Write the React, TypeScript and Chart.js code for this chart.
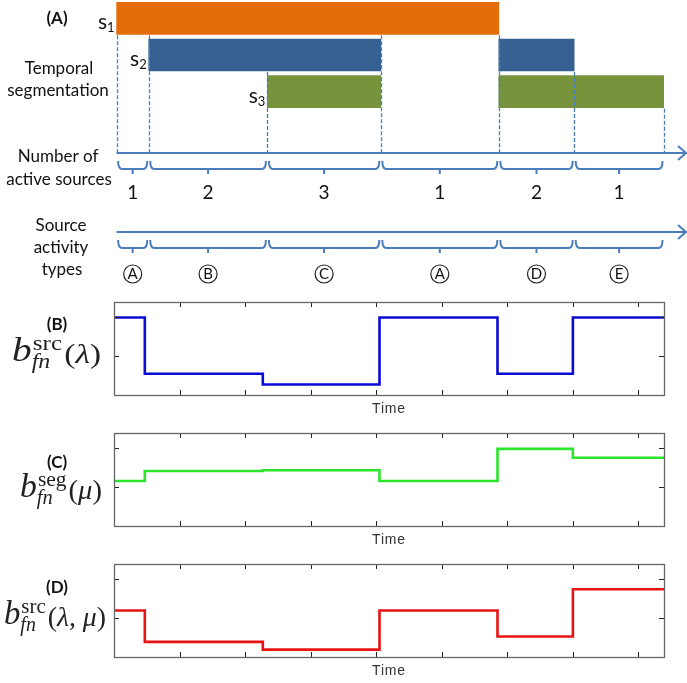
import React, { useEffect, useRef } from 'react';
import { Chart, registerables } from 'chart.js';

Chart.register(...registerables);

// ---------- shared time / level axes ----------
const TIME_MAX = 8.39;
const TIME_TICKS = [1, 2, 3, 4, 5, 6, 7, 8];
const LEVEL_MAX = 2.4;
const LEVEL_TICKS = [1, 2];

// ---------- panel A : temporal segmentation ----------
const SOURCE_NAMES = ['s1', 's2', 's3'];
const SOURCE_SUBSCRIPTS = ['1', '2', '3'];
const SOURCE_COLORS = ['#e46c0a', '#376092', '#77933c'];
const FIRST_ACTIVE: [number, number][] = [[0.04, 5.87], [0.53, 4.07], [2.34, 4.07]];
const SECOND_ACTIVE: ([number, number] | null)[] = [null, [5.87, 7.02], [5.87, 8.39]];
const SEGMENT_BOUNDS = [0.04, 0.53, 2.34, 4.07, 5.87, 7.02, 8.39];
const BOUND_TOP_SOURCE = [0, 0, 1, 0, 0, 1, 2];
const ACTIVE_COUNTS = ['1', '2', '3', '1', '2', '1'];
const ACTIVITY_TYPES = ['A', 'B', 'C', 'A', 'D', 'E'];

// ---------- panels B-D : step curves ----------
const STEP_TIMES = [0, 0.47, 2.27, 4.05, 5.85, 7.0, 8.39];
const SRC_LAMBDA = [2.0, 0.55, 0.27, 2.0, 0.55, 2.0, 2.0];
const SEG_MU = [1.16, 1.42, 1.44, 1.16, 1.99, 1.76, 1.76];
const SRC_LAMBDA_MU = [1.2, 0.39, 0.19, 1.2, 0.53, 1.75, 1.75];

const SANS = 'Lato, "Open Sans", sans-serif';
const SERIF = '"Liberation Serif", "DejaVu Serif", serif';
const AXIS_BLUE = '#4a7ebb';

function drawBrace(ctx: CanvasRenderingContext2D, x0: number, x1: number, yTop: number, yH: number, tick: number) {
  const xm = (x0 + x1) / 2;
  ctx.beginPath();
  ctx.moveTo(x0, yTop);
  ctx.quadraticCurveTo(x0, yH, x0 + 4, yH);
  ctx.lineTo(x1 - 4, yH);
  ctx.quadraticCurveTo(x1, yH, x1, yTop);
  ctx.moveTo(xm, yH);
  ctx.lineTo(xm, yH + tick);
  ctx.stroke();
}

const panelAPlugin = {
  id: 'panelA',
  afterDatasetsDraw(chart: any) {
    const { ctx, scales } = chart;
    const x = scales.x, y = scales.y;
    ctx.save();
    ctx.strokeStyle = AXIS_BLUE;
    ctx.lineWidth = 1.3;
    ctx.setLineDash([4, 2]);
    SEGMENT_BOUNDS.forEach((t, i) => {
      const px = Math.round(x.getPixelForValue(t)) + 0.5;
      const y0 = y.getPixelForValue(BOUND_TOP_SOURCE[i]) + 17;
      ctx.beginPath();
      ctx.moveTo(px, y0);
      ctx.lineTo(px, 153);
      ctx.stroke();
    });
    ctx.restore();
  },
  afterDraw(chart: any) {
    const { ctx, scales } = chart;
    const x = scales.x, y = scales.y;
    const px = (t: number) => x.getPixelForValue(t);
    ctx.save();
    ctx.fillStyle = '#111';
    ctx.textAlign = 'center';
    ctx.textBaseline = 'middle';
    ctx.font = `bold 17px ${SANS}`;
    ctx.fillText('(A)', 57, 19);

    ctx.font = `17px ${SANS}`;
    const leftLabels: [string, number, number][] = [
      ['Temporal', 59, 69], ['segmentation', 58, 91],
      ['Number of', 58, 157], ['active sources', 59, 180],
      ['Source', 61, 226], ['activity', 61, 248], ['types', 62, 270],
    ];
    leftLabels.forEach(([t, cx, cy]) => ctx.fillText(t, cx, cy));

    // source names
    ctx.textBaseline = 'alphabetic';
    ctx.textAlign = 'right';
    SOURCE_SUBSCRIPTS.forEach((sub, i) => {
      const xr = px(FIRST_ACTIVE[i][0]) - 2;
      const yb = y.getPixelForValue(i) + 11;
      ctx.font = `13px ${SANS}`;
      const ws = ctx.measureText(sub).width;
      ctx.fillText(sub, xr, yb + 3);
      ctx.font = `21px ${SANS}`;
      ctx.fillText('s', xr - ws, yb);
    });

    // timelines
    const timeline = (yAxis: number, labels: string[], circled: boolean) => {
      ctx.strokeStyle = AXIS_BLUE;
      ctx.lineWidth = 2;
      ctx.setLineDash([]);
      ctx.beginPath();
      ctx.moveTo(px(SEGMENT_BOUNDS[0]), yAxis);
      ctx.lineTo(686, yAxis);
      ctx.stroke();
      ctx.beginPath();
      ctx.moveTo(678, yAxis - 7);
      ctx.lineTo(686, yAxis);
      ctx.lineTo(678, yAxis + 7);
      ctx.stroke();
      labels.forEach((lab, i) => {
        const x0 = px(SEGMENT_BOUNDS[i]) + 1.5;
        const x1 = px(SEGMENT_BOUNDS[i + 1]) - 1.5;
        ctx.strokeStyle = AXIS_BLUE;
        ctx.lineWidth = 2;
        drawBrace(ctx, x0, x1, yAxis + 8, yAxis + 16, 5);
        const xm = (x0 + x1) / 2;
        ctx.fillStyle = '#111';
        ctx.textAlign = 'center';
        ctx.textBaseline = 'middle';
        if (circled) {
          ctx.strokeStyle = '#222';
          ctx.lineWidth = 1.2;
          ctx.beginPath();
          ctx.arc(xm, yAxis + 42, 9, 0, Math.PI * 2);
          ctx.stroke();
          ctx.font = `15px ${SANS}`;
          ctx.fillText(lab, xm, yAxis + 42.5);
        } else {
          ctx.font = `19px ${SANS}`;
          ctx.fillText(lab, xm, yAxis + 40);
        }
      });
    };
    timeline(153, ACTIVE_COUNTS, false);
    timeline(232, ACTIVITY_TYPES, true);
    ctx.restore();
  },
};

function drawFormula(ctx: CanvasRenderingContext2D, rightX: number, baseline: number, sup: string, args: [string, boolean][], width: number) {
  const bFont = `italic 33px ${SERIF}`;
  const supFont = `21px ${SERIF}`;
  const subFont = `italic 20px ${SERIF}`;
  const argFont = (it: boolean) => `${it ? 'italic ' : ''}28px ${SERIF}`;
  ctx.font = bFont;
  const wb = ctx.measureText('b').width;
  ctx.font = supFont;
  const wsup = ctx.measureText(sup).width;
  ctx.font = subFont;
  const wsub = ctx.measureText('fn').width;
  const wScript = Math.max(wsup, wsub + 1) + 2;
  const argWidths = args.map(([t, it]) => {
    ctx.font = argFont(it);
    return ctx.measureText(t).width;
  });
  const total = wb + 1 + wScript + argWidths.reduce((a, b) => a + b, 0);
  const sx = width / total;
  ctx.save();
  ctx.translate(rightX - width, baseline);
  ctx.scale(sx, 1);
  ctx.textAlign = 'left';
  ctx.textBaseline = 'alphabetic';
  ctx.fillStyle = '#222';
  ctx.font = bFont;
  ctx.fillText('b', 0, 0);
  ctx.font = supFont;
  ctx.fillText(sup, wb + 1, -11);
  ctx.font = subFont;
  ctx.fillText('fn', wb, 7);
  let cx = wb + 1 + wScript;
  args.forEach(([t, it], i) => {
    ctx.font = argFont(it);
    ctx.fillText(t, cx, 2);
    cx += argWidths[i];
  });
  ctx.restore();
}

const boxPlugin = {
  id: 'matlabBox',
  afterDraw(chart: any, _args: any, opts: any) {
    const { ctx, chartArea: a, scales } = chart;
    const x = scales.x, y = scales.y;
    ctx.save();
    ctx.strokeStyle = '#222';
    ctx.lineWidth = 1;
    TIME_TICKS.forEach((t) => {
      const px = Math.round(x.getPixelForValue(t)) + 0.5;
      ctx.beginPath();
      ctx.moveTo(px, a.top); ctx.lineTo(px, a.top + 5);
      ctx.moveTo(px, a.bottom); ctx.lineTo(px, a.bottom - 5);
      ctx.stroke();
    });
    LEVEL_TICKS.forEach((v) => {
      const py = Math.round(y.getPixelForValue(v)) + 0.5;
      ctx.beginPath();
      ctx.moveTo(a.left, py); ctx.lineTo(a.left + 5, py);
      ctx.moveTo(a.right, py); ctx.lineTo(a.right - 5, py);
      ctx.stroke();
    });
    ctx.strokeStyle = '#666';
    ctx.lineWidth = 1.3;
    ctx.strokeRect(Math.round(a.left) + 0.5, Math.round(a.top) + 0.5, Math.round(a.right - a.left), Math.round(a.bottom - a.top));

    ctx.fillStyle = '#333';
    ctx.font = `14px "Liberation Sans", Arial, sans-serif`;
    ctx.textAlign = 'center';
    ctx.textBaseline = 'middle';
    (ctx as any).letterSpacing = '0.8px';
    ctx.fillText('Time', (a.left + a.right) / 2, a.bottom + 14);
    (ctx as any).letterSpacing = '0px';

    const cy = (a.top + a.bottom) / 2;
    ctx.fillStyle = '#111';
    ctx.font = `bold 17px ${SANS}`;
    ctx.fillText(opts.tag, 57, cy + opts.tagDy);
    drawFormula(ctx, opts.right, cy + opts.baseDy, opts.sup, opts.args, opts.width);
    ctx.restore();
  },
};

function makeStepChart(canvas: HTMLCanvasElement, values: number[], color: string, top: number, bottom: number, box: any) {
  return new Chart(canvas, {
    type: 'line',
    data: {
      datasets: [{
        data: STEP_TIMES.map((t, i) => ({ x: t, y: values[i] })),
        borderColor: color,
        borderWidth: 2.6,
        pointRadius: 0,
        stepped: 'before',
        fill: false,
      }],
    },
    options: {
      animation: false,
      responsive: false,
      maintainAspectRatio: false,
      layout: { padding: { left: 114, right: 23, top, bottom } },
      scales: {
        x: { type: 'linear', min: 0, max: TIME_MAX, display: false },
        y: { type: 'linear', min: 0, max: LEVEL_MAX, display: false },
      },
      plugins: { legend: { display: false }, tooltip: { enabled: false }, matlabBox: box } as any,
    },
    plugins: [boxPlugin],
  } as any);
}

export default function App() {
  const aRef = useRef<HTMLCanvasElement>(null);
  const bRef = useRef<HTMLCanvasElement>(null);
  const cRef = useRef<HTMLCanvasElement>(null);
  const dRef = useRef<HTMLCanvasElement>(null);

  useEffect(() => {
    const charts: Chart[] = [];
    charts.push(new Chart(aRef.current!, {
      type: 'bar',
      data: {
        labels: SOURCE_NAMES,
        datasets: [
          { data: FIRST_ACTIVE, backgroundColor: SOURCE_COLORS, grouped: false, barThickness: 32, borderWidth: 0 },
          { data: SECOND_ACTIVE, backgroundColor: SOURCE_COLORS, grouped: false, barThickness: 32, borderWidth: 0 },
        ],
      },
      options: {
        indexAxis: 'y',
        animation: false,
        responsive: false,
        maintainAspectRatio: false,
        layout: { padding: { left: 114, right: 23, top: 0, bottom: 180 } },
        scales: {
          x: { type: 'linear', min: 0, max: TIME_MAX, display: false },
          y: { display: false },
        },
        plugins: { legend: { display: false }, tooltip: { enabled: false } },
      },
      plugins: [panelAPlugin],
    } as any));
    charts.push(makeStepChart(bRef.current!, SRC_LAMBDA, '#0b0bd6', 12, 25,
      { tag: '(B)', tagDy: -24, baseDy: 12, sup: 'src', args: [['(', false], ['λ', true], [')', false]], right: 101, width: 89 }));
    charts.push(makeStepChart(cRef.current!, SEG_MU, '#2be52b', 13, 24,
      { tag: '(C)', tagDy: -17, baseDy: 17, sup: 'seg', args: [['(', false], ['μ', true], [')', false]], right: 102, width: 82 }));
    charts.push(makeStepChart(dRef.current!, SRC_LAMBDA_MU, '#e81313', 14, 26,
      { tag: '(D)', tagDy: -23, baseDy: 13, sup: 'src', args: [['(', false], ['λ', true], [', ', false], ['μ', true], [')', false]], right: 106, width: 102 }));
    return () => charts.forEach((c) => c.destroy());
  }, []);

  const pos = (top: number): React.CSSProperties => ({ position: 'absolute', left: 0, top });
  return (
    <div style={{ position: 'absolute', left: 0, top: 0, width: 687, height: 683, background: '#fff' }}>
      <canvas ref={aRef} width={687} height={290} style={pos(0)} />
      <canvas ref={bRef} width={687} height={130} style={pos(290)} />
      <canvas ref={cRef} width={687} height={130} style={pos(420)} />
      <canvas ref={dRef} width={687} height={133} style={pos(550)} />
    </div>
  );
}
